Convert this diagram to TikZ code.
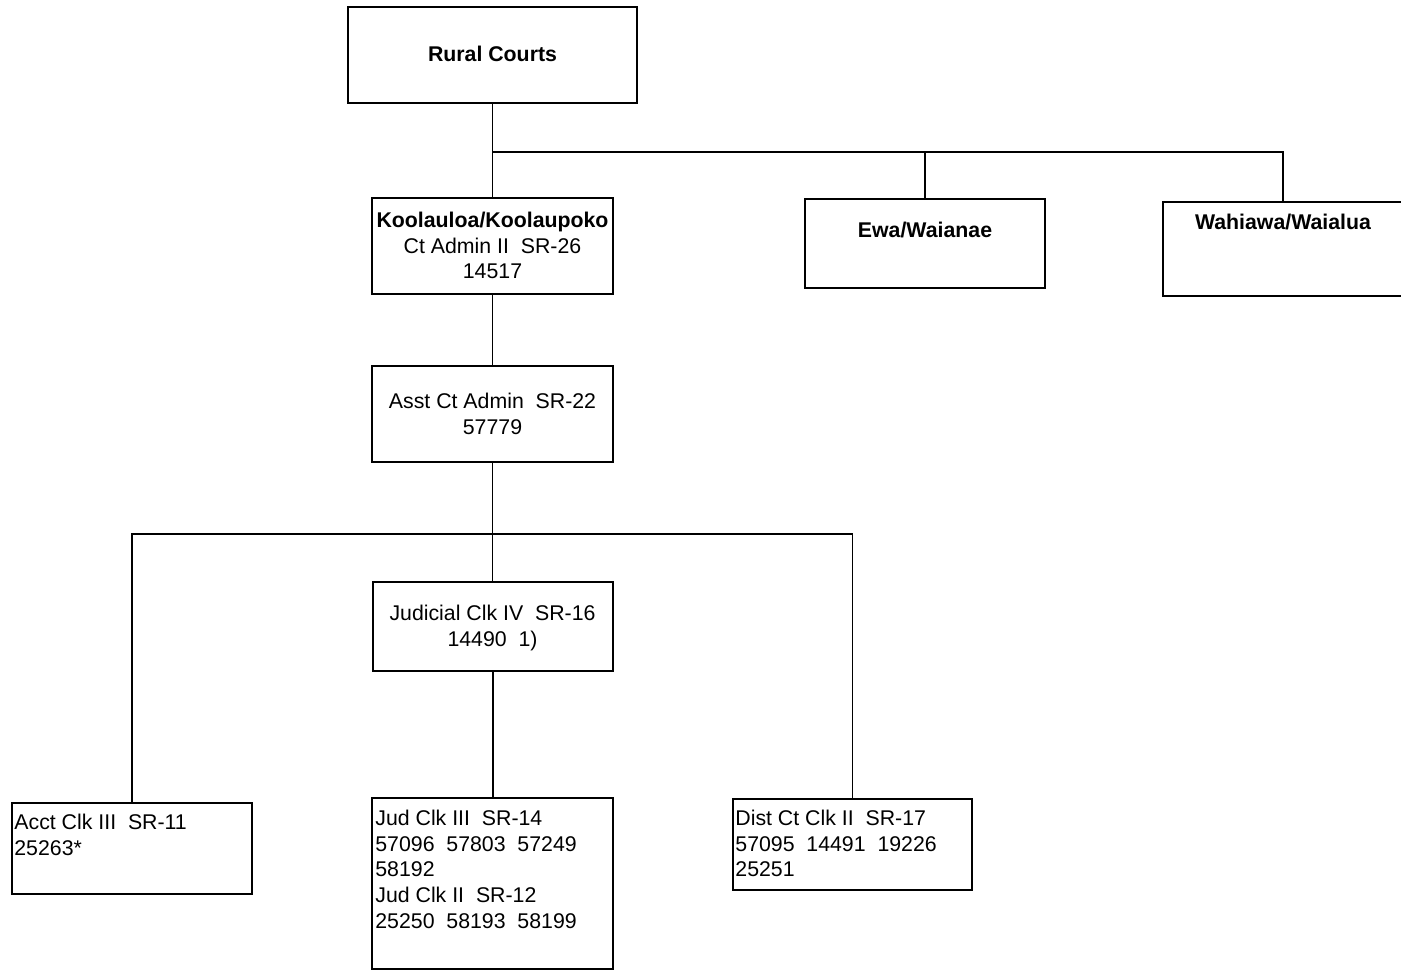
\documentclass[tikz,border=0pt]{standalone}
\usepackage{fontspec}
\setmainfont{Liberation Sans}
\begin{document}
\begin{tikzpicture}[x=0.5pt,y=-0.5pt,
  box/.style={draw, line width=1pt, inner sep=0pt, rectangle},
  conn/.style={line width=0.55pt},
  txt/.style={inner sep=0pt, font=\fontsize{10.65}{12.875}\selectfont, align=center, anchor=north},
  btxt/.style={txt, font=\fontsize{10.65}{12.875}\selectfont\bfseries},
  ltxt/.style={txt, align=left, anchor=north west}]
\useasboundingbox (0,0) rectangle (1401,973);
\fill[white] (0,0) rectangle (1401,973);

% boxes
\node[box, minimum width=144.5pt, minimum height=48pt] (rural) at (492.5,55) {};
\node[box, minimum width=120.5pt, minimum height=48pt] (kool) at (492.5,246) {};
\node[box, minimum width=120pt, minimum height=44.5pt] (ewa) at (925,243.5) {};
\node[box, minimum width=120pt, minimum height=47pt] (wah) at (1283,249) {};
\node[box, minimum width=120.5pt, minimum height=48pt] (asst) at (492.5,414) {};
\node[box, minimum width=120pt, minimum height=44.5pt] (judicial) at (492.5,626.5) {};
\node[box, minimum width=120pt, minimum height=45.5pt] (acct) at (132,848.5) {};
\node[box, minimum width=120.5pt, minimum height=85.5pt] (jud) at (492.5,883.5) {};
\node[box, minimum width=119.5pt, minimum height=45.5pt] (dist) at (852.5,844.5) {};

% texts
\node[btxt] (trural) at (492.5,43) {\strut Rural Courts};
\node[txt] (tkool) at (492.5,209) {\strut\textbf{Koolauloa/Koolaupoko}\\Ct Admin II~ SR-26\\14517};
\node[btxt] (tewa) at (925,219) {\strut Ewa/Waianae};
\node[btxt] (twah) at (1283,211) {\strut Wahiawa/Waialua};
\node[txt] (tasst) at (492.5,390) {\strut Asst Ct Admin~ SR-22\\57779};
\node[txt] (tjudicial) at (492.5,602) {\strut Judicial Clk IV~ SR-16\\14490~ 1)};
\node[ltxt] (tacct) at (14,811) {\strut Acct Clk III~ SR-11\\25263*};
\node[ltxt] (tjud) at (375,807) {\strut Jud Clk III~ SR-14\\57096~ 57803~ 57249\\58192\\Jud Clk II~ SR-12\\25250~ 58193~ 58199};
\node[ltxt] (tdist) at (735,807) {\strut Dist Ct Clk II~ SR-17\\57095~ 14491~ 19226\\25251};

% connectors
\coordinate (b1) at (492.5,152);
\coordinate (b2) at (492.5,534);
\draw[conn] (rural.south) -- (b1) -| (wah.north);
\draw[conn] (b1) -- (kool.north);
\draw[conn] (ewa.north) -- (ewa.north |- b1);
\draw[conn] (kool.south) -- (asst.north);
\draw[conn] (asst.south) -- (b2) -- (judicial.north);
\draw[conn] (acct.north) |- (b2) -| (dist.north);
\draw[line width=1pt] (judicial.south) -- (jud.north);
\end{tikzpicture}
\end{document}
